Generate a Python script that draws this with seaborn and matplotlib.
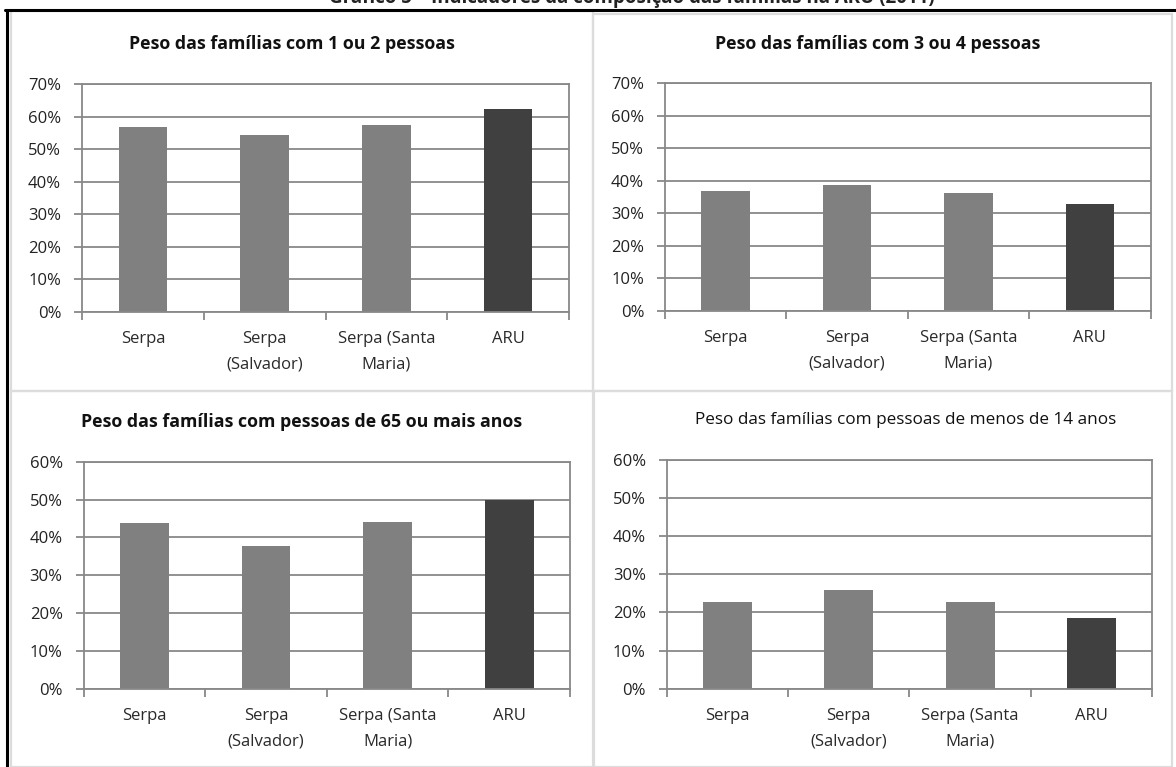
import matplotlib
matplotlib.use("Agg")
import matplotlib.pyplot as plt
from matplotlib.patches import Rectangle
from matplotlib.lines import Line2D
import seaborn as sns

# Freguesias / área em análise
categorias = ["Serpa", "Serpa\n(Salvador)", "Serpa (Santa\nMaria)", "ARU"]
cores = ["#808080", "#808080", "#808080", "#404040"]

# Percentagens por indicador
familias_1_2 = [56.7, 54.2, 57.3, 62.4]
familias_3_4 = [36.9, 38.6, 36.1, 32.8]
familias_65_mais = [43.8, 37.6, 44.0, 49.9]
familias_menos_14 = [22.8, 25.9, 22.8, 18.6]

titulos = [
    "Peso das famílias com 1 ou 2 pessoas",
    "Peso das famílias com 3 ou 4 pessoas",
    "Peso das famílias com pessoas de 65 ou mais anos",
    "Peso das famílias com pessoas de menos de 14 anos",
]
limites = [70, 70, 60, 60]
titulo_geral = "Gráfico 5 – Indicadores da composição das famílias na ARU (2011)"

W, H = 1176, 767
sns.set_theme(style="white")
plt.rcParams["font.family"] = ["Open Sans", "DejaVu Sans"]

fig = plt.figure(figsize=(W / 100, H / 100), dpi=100)
fig.patch.set_facecolor("white")


def rect(l, t, r, b):
    return [l / W, 1 - b / H, (r - l) / W, (b - t) / H]


def fx(x):
    return x / W


def fy(y):
    return 1 - y / H


# Molduras dos quatro painéis
for (l, t, r, b) in [(11, 11, 593, 391), (593, 14, 1172, 391),
                     (11, 391, 593, 767), (594, 391, 1172, 767)]:
    fig.patches.append(Rectangle((fx(l), fy(b)), (r - l) / W, (b - t) / H,
                                 transform=fig.transFigure, fill=False,
                                 edgecolor="#dcdcdc", linewidth=1.6))

# Caixa exterior
fig.lines.append(Line2D([fx(5), 1], [fy(9.5), fy(9.5)], transform=fig.transFigure,
                        color="black", linewidth=2.2))
fig.lines.append(Line2D([fx(6.5), fx(6.5)], [fy(9.5), 0], transform=fig.transFigure,
                        color="black", linewidth=2.2))

# Título geral (a página corta-o no topo)
fig.text(fx(632), fy(2.5), titulo_geral, ha="center", va="baseline",
         fontsize=13.5, fontweight="bold", color="#222222")

paineis = [
    (familias_1_2, rect(82, 84, 569, 311.7), (292, 44), "bold", 12.8),
    (familias_3_4, rect(665, 83.3, 1150.5, 310.7), (878, 44), "bold", 12.8),
    (familias_65_mais, rect(83.5, 461.7, 570, 688.7), (302, 422), "bold", 12.8),
    (familias_menos_14, rect(666.6, 459.7, 1152.4, 688.7), (906, 420), "normal", 12.3),
]

grid_col = "#888888"
for i, (vals, pos, tpos, peso, tsize) in enumerate(paineis):
    ax = fig.add_axes(pos)
    sns.barplot(x=list(range(len(categorias))), y=vals, hue=list(range(len(categorias))),
                palette=cores, width=0.4, saturation=1, legend=False, ax=ax,
                linewidth=0)
    top = limites[i]
    ax.set_xlim(-0.5, 3.5)
    ax.set_ylim(0, top)
    ticks = list(range(0, top + 1, 10))
    ax.set_yticks(ticks)
    ax.set_yticklabels([f"{t}%" for t in ticks], fontsize=12, color="#222222")
    ax.yaxis.grid(True, color=grid_col, linewidth=1.3)
    ax.set_axisbelow(True)
    ax.set_xticks(range(len(categorias)))
    ax.set_xticklabels(categorias, fontsize=12, color="#2a2a2a", linespacing=1.8)
    ax.set_xticks([-0.5, 0.5, 1.5, 2.5, 3.5], minor=True)
    ax.tick_params(axis="x", which="major", length=0, pad=14)
    ax.tick_params(axis="x", which="minor", length=6, width=1.3, color=grid_col,
                   direction="out", bottom=True)
    ax.tick_params(axis="y", length=6, width=1.3, color=grid_col, direction="out",
                   left=True, pad=9)
    for s in ax.spines.values():
        s.set_color(grid_col)
        s.set_linewidth(1.3)
        s.set_visible(True)
    ax.set_xlabel("")
    ax.set_ylabel("")
    fig.text(fx(tpos[0]), fy(tpos[1]), titulos[i], ha="center", va="center",
             fontsize=tsize, fontweight=peso, color="#111111")

fig.savefig("out.png", dpi=100, facecolor="white")
